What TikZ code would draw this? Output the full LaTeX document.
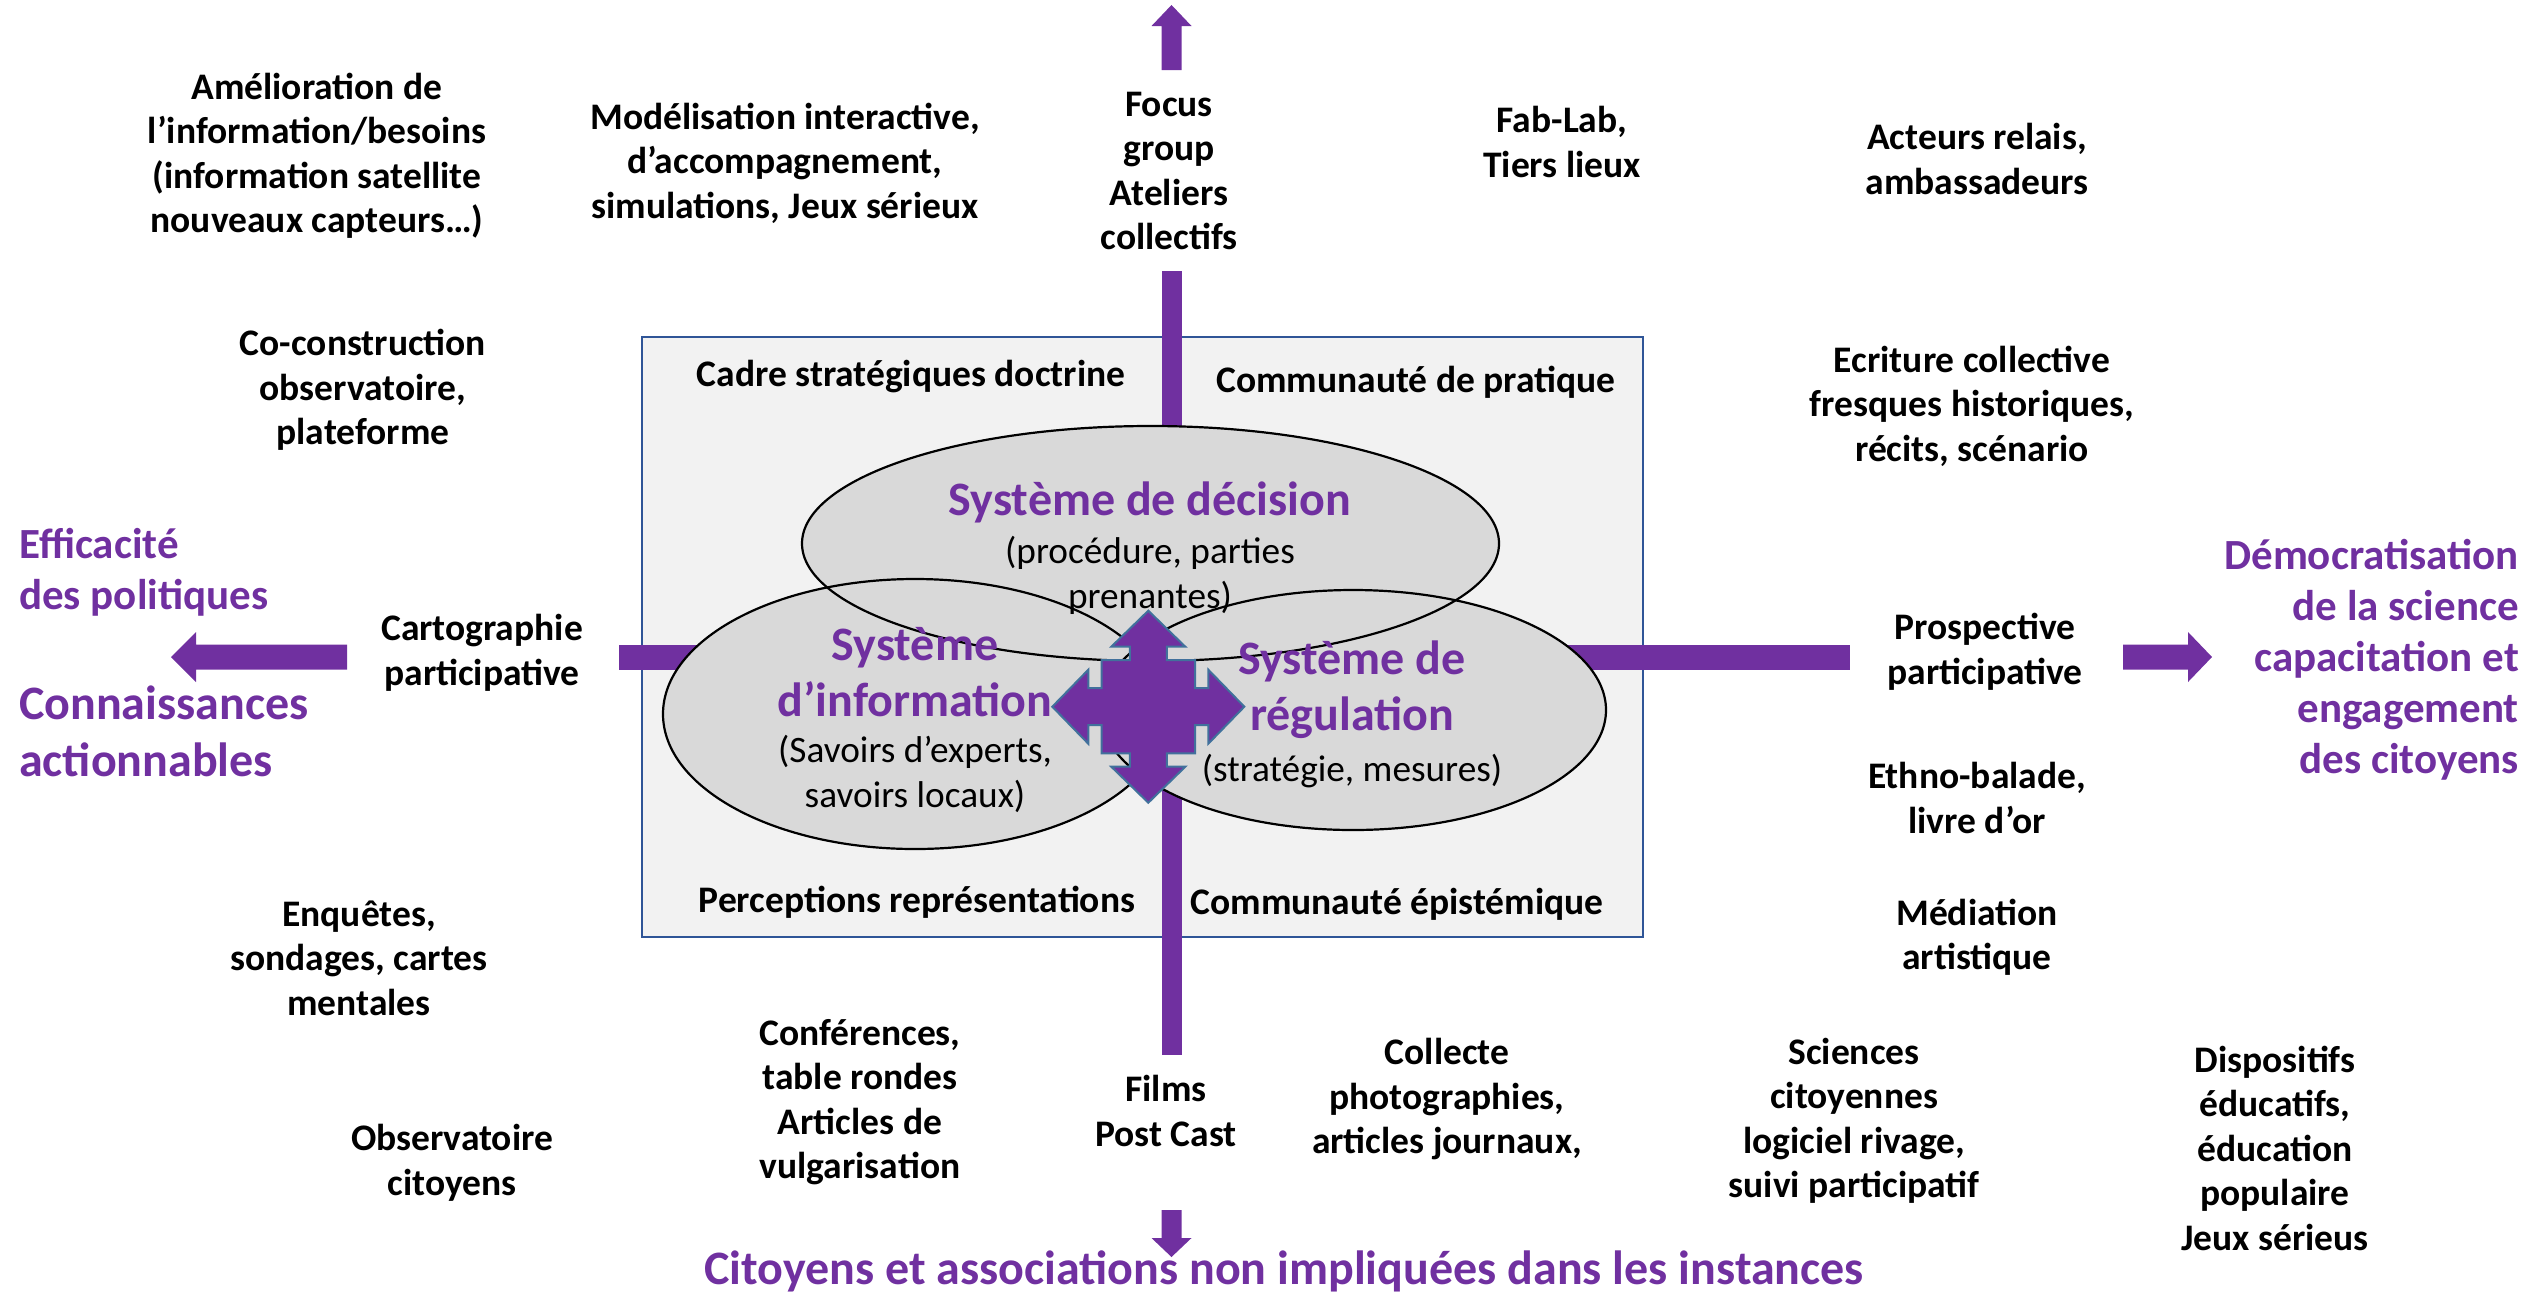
\documentclass[tikz,border=0pt]{standalone}
\usepackage{fontspec}
\setmainfont{Carlito}
\definecolor{purp}{HTML}{7030A0}
\definecolor{boxblue}{HTML}{2F5597}
\definecolor{ellfill}{HTML}{D9D9D9}
\definecolor{boxfill}{HTML}{F2F2F2}
\definecolor{qborder}{HTML}{41719C}
\begin{document}
\begin{tikzpicture}[x=1pt,y=-1pt,
  lbl/.style={font=\bfseries\fontsize{37.5}{44.5}\selectfont, align=center, inner sep=0pt},
  sub/.style={font=\fontsize{37.3}{45}\selectfont, align=center, inner sep=0pt},
  sys/.style={font=\bfseries\fontsize{48}{56}\selectfont, text=purp, align=center, inner sep=0pt},
  goal/.style={font=\bfseries\fontsize{43}{51}\selectfont, text=purp, inner sep=0pt},
  bigoal/.style={font=\bfseries\fontsize{48}{57}\selectfont, text=purp, inner sep=0pt},
  ell/.style={fill=ellfill},
  ellline/.style={draw=black, line width=2.2pt},
]
\useasboundingbox (0,0) rectangle (2539,1294);

% frame
\draw[boxblue, line width=2pt, fill=boxfill] (642,337) rectangle (1643,937);

% axes bars
\fill[purp] (1161.5,271) rectangle (1181.5,1055);
\fill[purp] (619,644.5) rectangle (1850,669.5);

% block arrows
\fill[purp] (347,644.5) -- (196,644.5) -- (196,632) -- (171,657) -- (196,682) -- (196,669.5) -- (347,669.5) -- cycle;
\fill[purp] (2123,644.5) -- (2188,644.5) -- (2188,632) -- (2212,657) -- (2188,682) -- (2188,669.5) -- (2123,669.5) -- cycle;
\fill[purp] (1161.5,70) -- (1161.5,26) -- (1151.5,26) -- (1171.5,5) -- (1191.5,26) -- (1181.5,26) -- (1181.5,70) -- cycle;
\fill[purp] (1161.5,1210) -- (1161.5,1238) -- (1151.5,1238) -- (1171.5,1257) -- (1191.5,1238) -- (1181.5,1238) -- (1181.5,1210) -- cycle;

% ellipses
\fill[ellfill] (1150.5,543.5) ellipse [x radius=348.5, y radius=117.5];
\fill[ellfill] (915,714) ellipse [x radius=252, y radius=135];
\fill[ellfill] (1353,710) ellipse [x radius=253, y radius=120];
\draw[ellline] (1150.5,543.5) ellipse [x radius=348.5, y radius=117.5];
\draw[ellline] (915,714) ellipse [x radius=252, y radius=135];
\draw[ellline] (1353,710) ellipse [x radius=253, y radius=120];

% box texts
\node[lbl] (cadre) at (911,377) {Cadre stratégiques doctrine};
\node[lbl] (cpra) at (1416,382) {Communauté de pratique};
\node[lbl] (perc) at (917,902) {Perceptions représentations};
\node[lbl] (cepi) at (1397,904) {Communauté épistémique};

% ellipse texts
\node[sys] (sdec) at (1150,502) {Système de décision};
\node[sub] (sdecs) at (1150,575.5) {(procédure, parties\\prenantes)};
\node[sys] (sinf) at (915,672) {Système\\d’information};
\node[sub] (sinfs) at (915,774) {(Savoirs d’experts,\\savoirs locaux)};
\node[sys] (sreg) at (1352,689.5) {Système de\\régulation};
\node[sub] (sregs) at (1352,771) {(stratégie, mesures)};

% quad arrow
\begin{scope}[shift={(1148.3,706.7)}]
\filldraw[fill=purp, draw=qborder, line width=2pt, line join=miter]
  (0,-96) -- (37,-60) -- (18.5,-60) -- (18.5,-46.7) -- (46.7,-46.7) -- (46.7,-18.5)
  -- (60,-18.5) -- (60,-37) -- (96,0) -- (60,37) -- (60,18.5) -- (46.7,18.5)
  -- (46.7,46.7) -- (18.5,46.7) -- (18.5,60) -- (37,60) -- (0,96) -- (-37,60)
  -- (-18.5,60) -- (-18.5,46.7) -- (-46.7,46.7) -- (-46.7,18.5) -- (-60,18.5)
  -- (-60,37) -- (-96,0) -- (-60,-37) -- (-60,-18.5) -- (-46.7,-18.5)
  -- (-46.7,-46.7) -- (-18.5,-46.7) -- (-18.5,-60) -- (-37,-60) -- cycle;
\end{scope}

% outer labels
\node[lbl] (amel) at (317,156) {Amélioration de\\l’information/besoins\\(information satellite\\nouveaux capteurs…)};
\node[lbl] (modl) at (785,163) {Modélisation interactive,\\d’accompagnement,\\simulations, Jeux sérieux};
\node[lbl] (focus) at (1169,171) {Focus\\group\\Ateliers\\collectifs};
\node[lbl] (fab) at (1562,142) {Fab-Lab,\\Tiers lieux};
\node[lbl] (acteurs) at (1977,159) {Acteurs relais,\\ambassadeurs};
\node[lbl] (cocon) at (363,390) {Co-construction\\observatoire,\\plateforme};
\node[lbl] (ecrit) at (1972,406) {Ecriture collective\\fresques historiques,\\récits, scénario};
\node[lbl] (carto) at (482,653) {Cartographie\\participative};
\node[lbl] (prosp) at (1985,652) {Prospective\\participative};
\node[lbl] (ethno) at (1977,798) {Ethno-balade,\\livre d’or};
\node[lbl] (medi) at (1977,937) {Médiation\\artistique};
\node[lbl] (enq) at (359,958) {Enquêtes,\\sondages, cartes\\mentales};
\node[lbl] (conf) at (860,1102) {Conférences,\\table rondes\\Articles de\\vulgarisation};
\node[lbl] (films) at (1166,1111) {Films\\Post Cast};
\node[lbl] (coll) at (1447,1099) {Collecte\\photographies,\\articles journaux,};
\node[lbl] (sci) at (1854,1121) {Sciences\\citoyennes\\logiciel rivage,\\suivi participatif};
\node[lbl] (dispo) at (2275,1148) {Dispositifs\\éducatifs,\\éducation\\populaire\\Jeux sérieus};
\node[lbl] (obs) at (452,1163) {Observatoire\\citoyens};

% goals
\node[goal, anchor=west, align=left] (effic) at (19,572) {Efficacité\\des politiques};
\node[bigoal, anchor=west, align=left] (conn) at (19,731) {Connaissances\\actionnables};
\node[goal, anchor=east, align=right] (demo) at (2519,660) {Démocratisation\\de la science\\capacitation et\\engagement\\des citoyens};
\node[goal, font=\bfseries\fontsize{48}{56}\selectfont] (citoy) at (1284,1271) {Citoyens et associations non impliquées dans les instances};
\end{tikzpicture}
\end{document}
